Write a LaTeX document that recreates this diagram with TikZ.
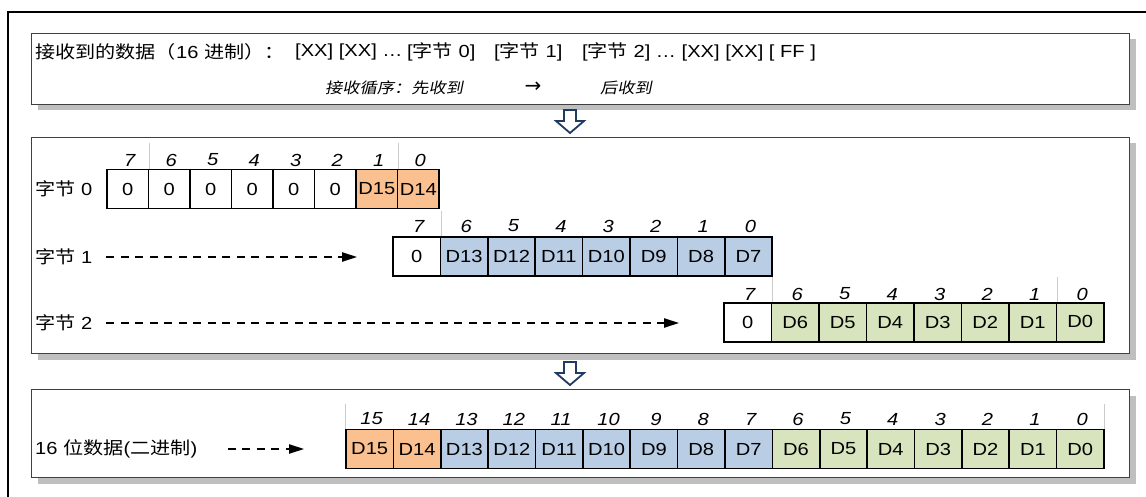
\documentclass[tikz,border=0pt]{standalone}
\usepackage{fontspec}
\setmainfont{Liberation Sans}[FakeStretch=1.15]
\newfontfamily\cjk{Noto Sans CJK SC}[FakeStretch=1.15]
\newfontfamily\cjkit{Noto Sans CJK SC}[FakeStretch=1.15,FakeSlant=0.2]
\newfontfamily\symbolfont{DejaVu Sans}
\usetikzlibrary{arrows.meta,shadows}

\definecolor{bitorange}{HTML}{FAC090}
\definecolor{bitblue}{HTML}{B9CDE5}
\definecolor{bitgreen}{HTML}{D7E4BD}
\definecolor{framegray}{HTML}{404040}
\definecolor{navy}{HTML}{1F3A63}

\tikzset{
  txt/.style={font=\fontsize{17.5}{20}\selectfont, inner sep=0pt},
  smalltxt/.style={font=\fontsize{15}{18}\selectfont, inner sep=0pt},
  panel/.style={draw=framegray, line width=1pt, fill=white, anchor=north west, inner sep=0pt,
    drop shadow={shadow xshift=6pt, shadow yshift=-6pt, fill=black!25, opacity=1}},
  bitcell/.style={txt, draw=black, line width=1.7pt, minimum height=39pt},
  bitnum/.style={txt, font=\fontsize{17.5}{20}\selectfont\itshape},
  dasharrow/.style={line width=2pt, dash pattern=on 8pt off 6.5pt, -{Triangle[length=15pt,width=9pt]}},
  tabline/.style={black!20, line width=0.8pt},
  hollow/.style={draw=navy, line width=1.8pt, fill=white, line join=miter}
}

\begin{document}
\begin{tikzpicture}[x=1pt,y=-1pt]
    \useasboundingbox (0,0) rectangle (1146,497);
    \draw[line width=1.5pt] (8,497) -- (8,12) -- (1146,12);

    % panels
    \node[panel, minimum width=1098pt, minimum height=71pt] (top) at (31,33) {};
    \node[panel, minimum width=1098pt, minimum height=216pt] (mid) at (31,137) {};
    \node[panel, minimum width=1098pt, minimum height=88pt] (bot) at (31,389) {};

    % received bytes
    \node[txt, anchor=west] (rxlabel) at (35,52) {{\cjk 接收到的数据（}16 {\cjk 进制）：}};
    \node[txt, anchor=west] (rxa) at (295,52) {[XX] [XX] …};
    \node[txt, anchor=west] (rx0) at (407,52) {[{\cjk 字节} 0]};
    \node[txt, anchor=west] (rx1) at (494,52) {[{\cjk 字节} 1]};
    \node[txt, anchor=west] (rx2) at (582,52) {[{\cjk 字节} 2] … [XX] [XX] [ FF ]};
    \node[smalltxt, anchor=west] (first) at (325,88) {\cjkit 接收循序：先收到};
    \node[smalltxt] (order) at (533,87) {\fontsize{20}{22}\selectfont\symbolfont →};
    \node[smalltxt, anchor=west] (last) at (600,88) {\cjkit 后收到};

    % down arrows
    \foreach \y in {110,362} {
        \draw[hollow] (564,\y) -- (576,\y) -- (576,\y+11) -- (584,\y+11) -- (570,\y+23)
            -- (556,\y+11) -- (564,\y+11) -- cycle;
    }

    % byte 0
    \node[txt, anchor=west] (b0) at (35,189) {{\cjk 字节} 0};
    \foreach \b/\v/\c [count=\i from 0] in {7/0/white,6/0/white,5/0/white,4/0/white,
        3/0/white,2/0/white,1/D15/bitorange,0/D14/bitorange} {
        \node[bitcell, fill=\c, minimum width=41.5pt] (r0-\i) at ({107+(\i+0.5)*41.5},189) {\v};
        \node[bitnum] (n0-\i) at ({109+(\i+0.5)*41.5},160) {\b};
    }
    \draw[tabline] (r0-0.north east) -- ++(0,-26);
    \draw[tabline] (r0-6.north east) -- ++(0,-26);

    % byte 1
    \node[txt, anchor=west] (b1) at (35,257) {{\cjk 字节} 1};
    \foreach \b/\v/\c [count=\i from 0] in {7/0/white,6/D13/bitblue,5/D12/bitblue,4/D11/bitblue,
        3/D10/bitblue,2/D9/bitblue,1/D8/bitblue,0/D7/bitblue} {
        \node[bitcell, fill=\c, minimum width=47.4pt] (r1-\i) at ({393+(\i+0.5)*47.4},256.5) {\v};
        \node[bitnum] (n1-\i) at ({395+(\i+0.5)*47.4},226) {\b};
    }
    \draw[tabline] (r1-0.north east) -- ++(0,-25);
    \draw[dasharrow] ([xshift=14pt]b1.east) -- ([xshift=-35pt]b1.east -| r1-0.west);

    % byte 2
    \node[txt, anchor=west] (b2) at (35,323) {{\cjk 字节} 2};
    \foreach \b/\v/\c [count=\i from 0] in {7/0/white,6/D6/bitgreen,5/D5/bitgreen,4/D4/bitgreen,
        3/D3/bitgreen,2/D2/bitgreen,1/D1/bitgreen,0/\raisebox{3pt}{D0}/bitgreen} {
        \node[bitcell, fill=\c, minimum width=47.5pt] (r2-\i) at ({724+(\i+0.5)*47.5},322.5) {\v};
        \node[bitnum] (n2-\i) at ({726+(\i+0.5)*47.5},294) {\b};
    }
    \draw[tabline] (r2-0.north east) -- ++(0,-25);
    \draw[tabline] (r2-6.north east) -- ++(0,-25);
    \draw[dasharrow] ([xshift=14pt]b2.east) -- ([xshift=-44pt]b2.east -| r2-0.west);

    % 16 bit result
    \node[txt, anchor=west] (b3) at (35,449) {16 {\cjk 位数据}({\cjk 二进制})};
    \foreach \b/\v/\c [count=\i from 0] in {15/D15/bitorange,14/D14/bitorange,13/D13/bitblue,
        12/D12/bitblue,11/D11/bitblue,10/D10/bitblue,9/D9/bitblue,8/D8/bitblue,7/D7/bitblue,
        6/D6/bitgreen,5/D5/bitgreen,4/D4/bitgreen,3/D3/bitgreen,2/D2/bitgreen,1/D1/bitgreen,0/D0/bitgreen} {
        \node[bitcell, fill=\c, minimum width=47.375pt] (r3-\i) at ({346+(\i+0.5)*47.375},449) {\v};
        \node[bitnum] (n3-\i) at ({348+(\i+0.5)*47.375},419) {\b};
    }
    \draw[tabline] (r3-0.north west) -- ++(0,-25);
    \draw[tabline] (r3-15.north east) -- ++(0,-25);
    \draw[dasharrow] ([xshift=30pt]b3.east) -- ([xshift=-41pt]b3.east -| r3-0.west);

\end{tikzpicture}
\end{document}
